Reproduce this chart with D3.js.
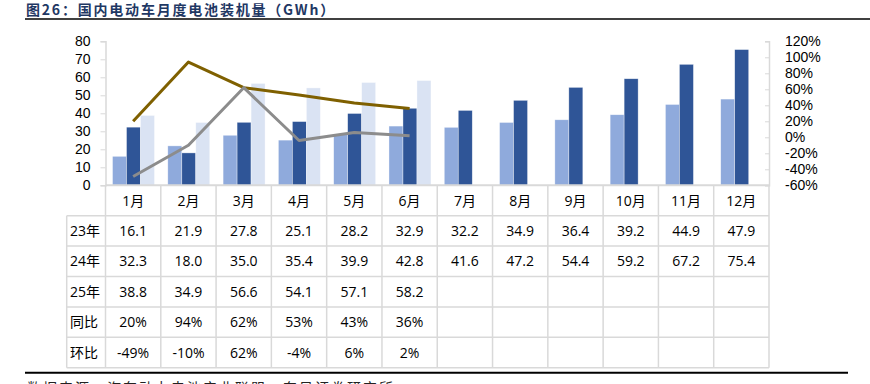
<!DOCTYPE html>
<html>
<head>
<meta charset="utf-8">
<script src="https://cdn.jsdelivr.net/npm/d3@7"></script>
<style>
  body { margin: 0; background: #fff; }
  svg { display: block; font-family: "Open Sans", "Noto Sans CJK SC", sans-serif; }
</style>
</head>
<body>
<svg class="svg"></svg>
<script>
// data
const months = ['1月','2月','3月','4月','5月','6月','7月','8月','9月','10月','11月','12月'];
const y23 = [16.1, 21.9, 27.8, 25.1, 28.2, 32.9, 32.2, 34.9, 36.4, 39.2, 44.9, 47.9];
const y24 = [32.3, 18.0, 35.0, 35.4, 39.9, 42.8, 41.6, 47.2, 54.4, 59.2, 67.2, 75.4];
const y25 = [38.8, 34.9, 56.6, 54.1, 57.1, 58.2];
const yoy = [20, 94, 62, 53, 43, 36];     // 同比 %
const mom = [-49, -10, 62, -4, 6, 2];     // 环比 %
const leftTicks = [0, 10, 20, 30, 40, 50, 60, 70, 80];
const rightTicks = [-60, -40, -20, 0, 20, 40, 60, 80, 100, 120];

const width = 870, height = 384;
const plotTop = 41.3, plotBottom = 185.3;
const left = 105.5, right = 769;
const rowH = 30.4;
const labelX = 66.7;
const gridColor = '#d9d9d9';

const svg = d3.select('.svg').attr('width', width).attr('height', height);

// title
svg.append('text')
  .attr('x', 26).attr('y', 14.5)
  .attr('fill', '#1f3864')
  .attr('font-family', '"Noto Sans CJK SC", sans-serif')
  .attr('font-weight', 'bold')
  .attr('font-size', 14)
  .attr('letter-spacing', 1.8)
  .text('图26：国内电动车月度电池装机量（GWh）');
svg.append('line')
  .attr('x1', 25).attr('x2', 870).attr('y1', 19).attr('y2', 19)
  .attr('stroke', '#000').attr('stroke-width', 1.6);

const x = d3.scaleBand().domain(months).range([left, right]).padding(0);
const bw = x.bandwidth();
const sub = d3.scaleBand().domain(['23', '24', '25']).range([bw * 0.127, bw * 0.886]);
const yL = d3.scaleLinear().domain([0, 80]).range([plotBottom, plotTop]);
const yR = d3.scaleLinear().domain([-60, 120]).range([plotBottom, plotTop]);

// axes
const axL = svg.append('g').attr('transform', `translate(${left},0)`)
  .call(d3.axisLeft(yL).tickValues(leftTicks).tickSize(5).tickPadding(10));
const axR = svg.append('g').attr('transform', `translate(${right},0)`)
  .call(d3.axisRight(yR).tickValues(rightTicks).tickFormat(d => d + '%').tickSize(-4).tickPadding(16));
[axL, axR].forEach(a => {
  a.select('.domain').attr('stroke', gridColor).attr('stroke-width', 1.5);
  a.selectAll('.tick line').attr('stroke', gridColor);
  a.selectAll('.tick text').attr('fill', '#000').attr('font-size', 14);
});

// bars
const series = [
  { key: '23', vals: y23, color: '#8faadc' },
  { key: '24', vals: y24, color: '#2f5597' },
  { key: '25', vals: y25, color: '#dae3f3' }
];
series.forEach(s => {
  svg.append('g').selectAll('rect')
    .data(s.vals)
    .join('rect')
    .attr('x', (d, i) => x(months[i]) + sub(s.key))
    .attr('width', sub.bandwidth())
    .attr('y', d => yL(d))
    .attr('height', d => yL(0) - yL(d))
    .attr('fill', s.color)
    .attr('stroke', '#fff').attr('stroke-width', 0.6).attr('stroke-opacity', 0.6);
});

// lines
const line = d3.line()
  .x((d, i) => x(months[i]) + bw / 2)
  .y(d => yR(d));
svg.append('path').datum(yoy).attr('d', line)
  .attr('fill', 'none').attr('stroke', '#7f6000').attr('stroke-width', 3).attr('stroke-linejoin', 'round');
svg.append('path').datum(mom).attr('d', line)
  .attr('fill', 'none').attr('stroke', '#8c8c8c').attr('stroke-width', 3).attr('stroke-linejoin', 'round');

// table grid
const rowLabels = ['23年', '24年', '25年', '同比', '环比'];
const rows = [
  y23.map(d => d.toFixed(1)),
  y24.map(d => d.toFixed(1)),
  y25.map(d => d.toFixed(1)),
  yoy.map(d => d + '%'),
  mom.map(d => d + '%')
];
const rowTop = i => plotBottom + rowH * (i + 1);
const tableBottom = rowTop(rowLabels.length);

const grid = svg.append('g').attr('stroke', gridColor).attr('stroke-width', 1.5);
months.forEach(m => {
  grid.append('line').attr('x1', x(m)).attr('x2', x(m)).attr('y1', plotBottom).attr('y2', tableBottom);
});
grid.append('line').attr('x1', right).attr('x2', right).attr('y1', plotBottom).attr('y2', tableBottom);
grid.append('line').attr('x1', labelX).attr('x2', labelX).attr('y1', rowTop(0)).attr('y2', tableBottom);
rowLabels.forEach((r, i) => {
  grid.append('line').attr('x1', labelX).attr('x2', right).attr('y1', rowTop(i)).attr('y2', rowTop(i));
});
grid.append('line').attr('x1', labelX).attr('x2', right).attr('y1', tableBottom).attr('y2', tableBottom);
svg.append('line').attr('x1', left).attr('x2', right).attr('y1', plotBottom).attr('y2', plotBottom)
  .attr('stroke', gridColor).attr('stroke-width', 2);

// month header
svg.append('g').selectAll('text')
  .data(months).join('text')
  .attr('x', d => x(d) + bw / 2)
  .attr('y', plotBottom + rowH / 2)
  .attr('dy', '0.36em')
  .attr('text-anchor', 'middle')
  .attr('font-size', 14)
  .text(d => d);

// table rows
rows.forEach((vals, r) => {
  const cy = rowTop(r) + rowH / 2;
  svg.append('text')
    .attr('x', 70).attr('y', cy).attr('dy', '0.36em')
    .attr('font-size', 14)
    .text(rowLabels[r]);
  svg.append('g').selectAll('text')
    .data(vals).join('text')
    .attr('x', (d, i) => x(months[i]) + bw / 2)
    .attr('y', cy).attr('dy', '0.36em')
    .attr('text-anchor', 'middle')
    .attr('font-size', 14)
    .text(d => d);
});

// footer (cut by the page edge, as in the picture)
svg.append('line')
  .attr('x1', 25).attr('x2', 848).attr('y1', 372.7).attr('y2', 372.7)
  .attr('stroke', '#000').attr('stroke-width', 2);
svg.append('text')
  .attr('x', 27).attr('y', 393)
  .attr('font-family', '"Noto Sans CJK SC", sans-serif')
  .attr('font-size', 14)
  .attr('letter-spacing', 2)
  .attr('fill', '#222')
  .text('数据来源：汽车动力电池产业联盟，东吴证券研究所');
</script>
</body>
</html>
